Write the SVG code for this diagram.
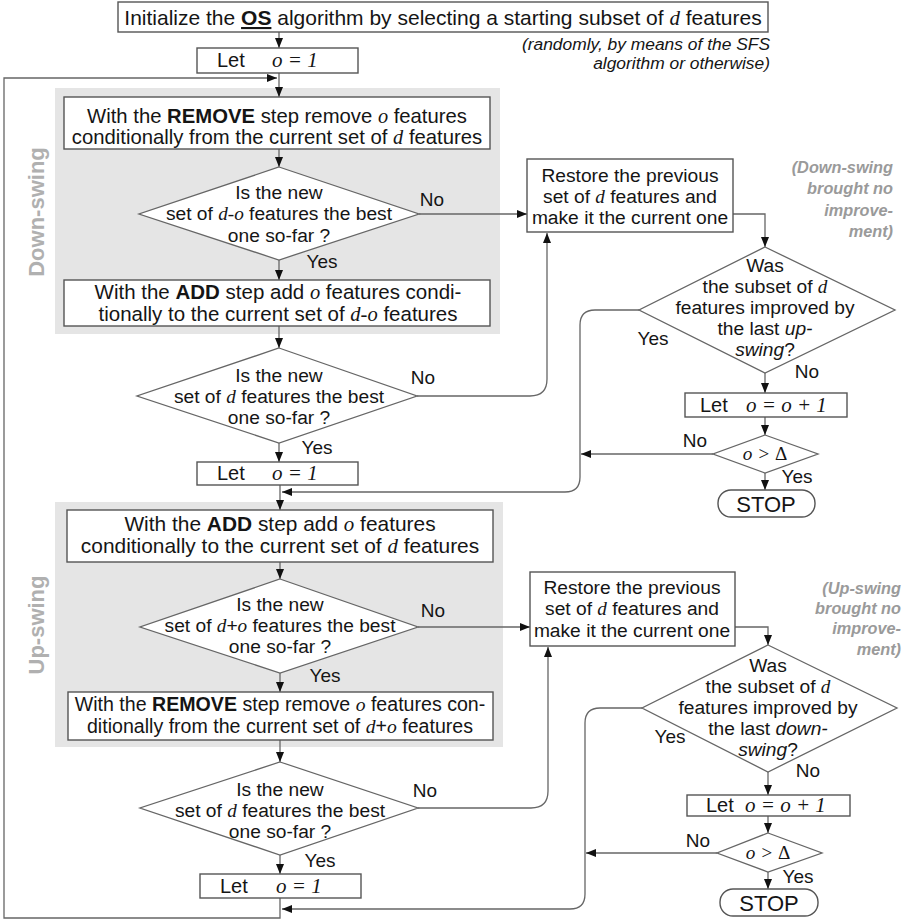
<svg xmlns="http://www.w3.org/2000/svg" width="902" height="920" viewBox="0 0 902 920">
<defs>
<marker id="ah" markerWidth="10" markerHeight="8" refX="10" refY="4" orient="auto" markerUnits="userSpaceOnUse">
<path d="M0,0 L10,4 L0,8 z" fill="#111"/>
</marker>
<style>
.box{fill:#fff;stroke:#555;stroke-width:1.4}
.dia{fill:#fff;stroke:#666;stroke-width:1.3}
.grey{fill:#e5e5e5}
.c{fill:none;stroke:#666;stroke-width:1.3}
.a{marker-end:url(#ah)}
text{font-family:"Liberation Sans",Arial,sans-serif;font-size:19.2px;fill:#151515}
.mid{text-anchor:middle}
.m{font-family:"Liberation Serif","Times New Roman",serif;font-style:italic}
.up{font-style:normal}
.b{font-weight:bold}
.i{font-style:italic}
.lbl{font-size:19px}
.note{font-size:17.4px;font-style:italic;text-anchor:end}
.gnote{font-size:16.3px;font-style:italic;font-weight:bold;fill:#9a9a9a;text-anchor:end}
.side{font-size:22px;font-weight:bold;fill:#b0b0b0;text-anchor:middle}
.stop{font-size:22px;text-anchor:middle}
.let{font-size:20px}
.letm{font-size:21px}
</style>
</defs>

<!-- swing backgrounds -->
<rect class="grey" x="55" y="88" width="445" height="246"/>
<rect class="grey" x="55" y="502" width="448" height="245"/>
<text class="side" transform="translate(44,212) rotate(-90)">Down-swing</text>
<text class="side" transform="translate(44,625) rotate(-90)">Up-swing</text>

<!-- connectors -->
<g id="connectors">
<path class="c a" d="M279,32 L279,48"/>
<path class="c a" d="M279,73 L279,97"/>
<path class="c a" d="M280,897 L280,918 L4,918 L4,78 L277,78"/>
<path class="c a" d="M279,149 L279,167"/>
<path class="c a" d="M279,260 L279,280"/>
<path class="c a" d="M279,326 L279,348"/>
<path class="c a" d="M279,443 L279,462"/>
<path class="c a" d="M280,485 L280,510"/>
<path class="c a" d="M280,562 L280,579"/>
<path class="c a" d="M280,673 L280,692"/>
<path class="c a" d="M280,740 L280,762"/>
<path class="c a" d="M280,855 L280,874"/>
<path class="c a" d="M419,214 L527,214"/>
<path class="c a" d="M733,214 L765,214 L765,247"/>
<path class="c a" d="M417,396 L530,396 Q547,396 547,379 L547,233"/>
<path class="c a" d="M639,310 L595,310 Q580,310 580,325 L580,477 Q580,492 565,492 L282,492"/>
<path class="c a" d="M765,373 L765,393"/>
<path class="c a" d="M765,417 L765,435"/>
<path class="c a" d="M765,473 L765,490"/>
<path class="c a" d="M713,454 L581,454"/>
<path class="c a" d="M418,627 L530,627"/>
<path class="c a" d="M735,627 L768,627 L768,645"/>
<path class="c a" d="M418,808 L531,808 Q548,808 548,791 L548,647"/>
<path class="c a" d="M642,708 L600,708 Q585,708 585,723 L585,894 Q585,909 570,909 L282,909"/>
<path class="c a" d="M768,772 L768,795"/>
<path class="c a" d="M768,816 L768,833"/>
<path class="c a" d="M768,872 L768,889"/>
<path class="c a" d="M717,853 L586,853"/>
</g>

<!-- labels on connectors -->
<g id="labels">
<text class="mid lbl" x="432" y="206">No</text>
<text class="mid lbl" x="322" y="268">Yes</text>
<text class="mid lbl" x="423" y="384">No</text>
<text class="mid lbl" x="317" y="454">Yes</text>
<text class="mid lbl" x="433" y="617">No</text>
<text class="mid lbl" x="325" y="682">Yes</text>
<text class="mid lbl" x="425" y="797">No</text>
<text class="mid lbl" x="320" y="867">Yes</text>
<text class="mid lbl" x="653" y="345">Yes</text>
<text class="mid lbl" x="807" y="378">No</text>
<text class="mid lbl" x="695" y="447">No</text>
<text class="mid lbl" x="797" y="483">Yes</text>
<text class="mid lbl" x="670" y="743">Yes</text>
<text class="mid lbl" x="808" y="777">No</text>
<text class="mid lbl" x="698" y="847">No</text>
<text class="mid lbl" x="798" y="883">Yes</text>
</g>

<g id="init">
<rect class="box" x="118" y="2" width="650" height="30"/>
<text class="mid" style="font-size:21px" x="443" y="25">Initialize the <tspan class="b" text-decoration="underline">OS</tspan> algorithm by selecting a starting subset of <tspan class="m">d</tspan> features</text>
</g>
<g id="note-init">
<text class="note" x="770" y="50">(randomly, by means of the SFS</text>
<text class="note" x="770" y="69">algorithm or otherwise)</text>
</g>

<g id="let1">
<rect class="box" x="197" y="48" width="161" height="25"/>
<text class="let" x="217" y="67">Let<tspan class="m letm" x="272">o = 1</tspan></text>
</g>

<g id="remove1">
<rect class="box" x="64" y="97" width="426" height="52"/>
<text class="mid" style="font-size:20.3px" x="277" y="123">With the <tspan class="b">REMOVE</tspan> step remove <tspan class="m">o</tspan> features</text>
<text class="mid" style="font-size:20.3px" x="277" y="144">conditionally from the current set of <tspan class="m">d</tspan> features</text>
</g>

<g id="dec1">
<polygon class="dia" points="279,167 419,214 279,260 139,214"/>
<text class="mid" x="279" y="199">Is the new</text>
<text class="mid" x="279" y="220">set of <tspan class="m">d-o</tspan> features the best</text>
<text class="mid" x="279" y="242">one so-far ?</text>
</g>

<g id="add1">
<rect class="box" x="64" y="280" width="426" height="46"/>
<text class="mid" style="font-size:20.5px" x="278" y="299">With the <tspan class="b">ADD</tspan> step add <tspan class="m">o</tspan> features condi-</text>
<text class="mid" style="font-size:20.5px" x="278" y="321">tionally to the current set of  <tspan class="m">d-o</tspan> features</text>
</g>

<g id="dec2">
<polygon class="dia" points="279,348 417,396 279,443 137,396"/>
<text class="mid" x="279" y="382">Is the new</text>
<text class="mid" x="279" y="403">set of <tspan class="m">d</tspan> features the best</text>
<text class="mid" x="279" y="424">one so-far ?</text>
</g>

<g id="let2">
<rect class="box" x="197" y="462" width="161" height="23"/>
<text class="let" x="217" y="480">Let<tspan class="m letm" x="272">o = 1</tspan></text>
</g>

<g id="restore1">
<rect class="box" x="527" y="159" width="206" height="73"/>
<text class="mid" x="630" y="182">Restore the previous</text>
<text class="mid" x="630" y="203">set of <tspan class="m">d</tspan> features and</text>
<text class="mid" x="630" y="224">make it the current one</text>
</g>

<g id="note-down">
<text class="gnote" x="893" y="173">(Down-swing</text>
<text class="gnote" x="893" y="194">brought no</text>
<text class="gnote" x="893" y="216">improve-</text>
<text class="gnote" x="893" y="237">ment)</text>
</g>

<g id="was1">
<polygon class="dia" points="765,247 895,310 765,373 639,310"/>
<text class="mid" x="765" y="272">Was</text>
<text class="mid" x="765" y="293">the subset of <tspan class="m">d</tspan></text>
<text class="mid" x="765" y="314">features improved by</text>
<text class="mid" x="765" y="335">the last <tspan class="i">up-</tspan></text>
<text class="mid" x="765" y="356"><tspan class="i">swing</tspan>?</text>
</g>

<g id="inc1">
<rect class="box" x="685" y="393" width="162" height="24"/>
<text class="let" x="700" y="412">Let<tspan class="m letm" x="746">o = o + 1</tspan></text>
</g>

<g id="cmp1">
<polygon class="dia" points="765,435 818,454 765,473 713,454"/>
<text class="mid m" x="765" y="460">o &gt; <tspan class="up">Δ</tspan></text>
</g>

<g id="stop1">
<rect class="box" x="718" y="490" width="97" height="27" rx="13" ry="13"/>
<text class="stop" x="766" y="512">STOP</text>
</g>

<g id="add2">
<rect class="box" x="67" y="510" width="426" height="52"/>
<text class="mid" style="font-size:20.9px" x="280" y="531">With the <tspan class="b">ADD</tspan> step add <tspan class="m">o</tspan> features</text>
<text class="mid" style="font-size:20.9px" x="280" y="553">conditionally to the current set of <tspan class="m">d</tspan> features</text>
</g>

<g id="dec3">
<polygon class="dia" points="280,579 418,627 280,673 140,627"/>
<text class="mid" x="280" y="611">Is the new</text>
<text class="mid" x="280" y="632">set of <tspan class="m">d</tspan>+<tspan class="m">o</tspan> features the best</text>
<text class="mid" x="280" y="653">one so-far ?</text>
</g>

<g id="remove2">
<rect class="box" x="68" y="692" width="425" height="48"/>
<text class="mid" style="font-size:19.6px" x="280" y="711">With the <tspan class="b">REMOVE</tspan> step remove <tspan class="m">o</tspan> features con-</text>
<text class="mid" style="font-size:19.6px" x="280" y="733">ditionally from the current set of <tspan class="m">d</tspan>+<tspan class="m">o</tspan> features</text>
</g>

<g id="dec4">
<polygon class="dia" points="280,762 418,808 280,855 140,808"/>
<text class="mid" x="280" y="796">Is the new</text>
<text class="mid" x="280" y="817">set of <tspan class="m">d</tspan> features the best</text>
<text class="mid" x="280" y="838">one so-far ?</text>
</g>

<g id="let3">
<rect class="box" x="200" y="874" width="161" height="24"/>
<text class="let" x="220" y="893">Let<tspan class="m letm" x="276">o = 1</tspan></text>
</g>

<g id="restore2">
<rect class="box" x="530" y="572" width="205" height="74"/>
<text class="mid" x="632" y="594">Restore the previous</text>
<text class="mid" x="632" y="615">set of <tspan class="m">d</tspan> features and</text>
<text class="mid" x="632" y="637">make it the current one</text>
</g>

<g id="note-up">
<text class="gnote" x="901" y="594">(Up-swing</text>
<text class="gnote" x="901" y="614">brought no</text>
<text class="gnote" x="901" y="634">improve-</text>
<text class="gnote" x="901" y="655">ment)</text>
</g>

<g id="was2">
<polygon class="dia" points="768,645 897,708 768,772 642,708"/>
<text class="mid" x="768" y="672">Was</text>
<text class="mid" x="768" y="693">the subset of <tspan class="m">d</tspan></text>
<text class="mid" x="768" y="714">features improved by</text>
<text class="mid" x="768" y="735">the last <tspan class="i">down-</tspan></text>
<text class="mid" x="768" y="756"><tspan class="i">swing</tspan>?</text>
</g>

<g id="inc2">
<rect class="box" x="687" y="795" width="163" height="21"/>
<text class="let" x="706" y="812">Let<tspan class="m letm" x="745">o = o + 1</tspan></text>
</g>

<g id="cmp2">
<polygon class="dia" points="768,833 822,853 768,872 717,853"/>
<text class="mid m" x="768" y="859">o &gt; <tspan class="up">Δ</tspan></text>
</g>

<g id="stop2">
<rect class="box" x="720" y="889" width="98" height="27" rx="13" ry="13"/>
<text class="stop" x="769" y="911">STOP</text>
</g>
</svg>
